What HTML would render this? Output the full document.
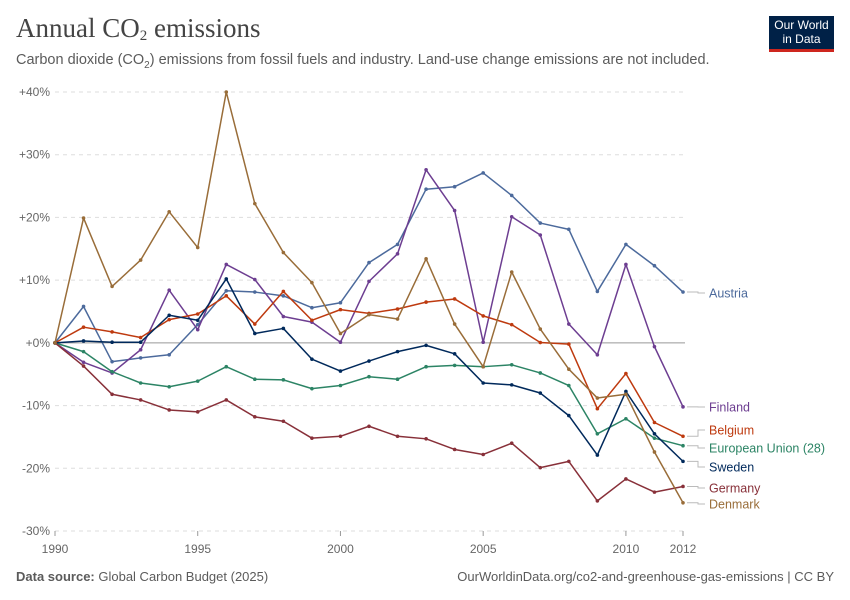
<!DOCTYPE html>
<html><head><meta charset="utf-8"><style>
body{margin:0;background:#fff;}
#wrap{position:relative;width:850px;height:600px;overflow:hidden;font-family:"Liberation Sans",sans-serif;}
.t{position:absolute;white-space:nowrap;}
</style></head><body>
<div id="wrap">
<div class="t" style="left:16px;top:13px;font-family:'Liberation Serif',serif;font-size:27px;color:#444;">Annual CO<sub style="font-size:15px;vertical-align:-3px">2</sub> emissions</div>
<div class="t" style="left:16px;top:52px;font-size:14.5px;color:#5b5b5b;">Carbon dioxide (CO<sub style="font-size:10px">2</sub>) emissions from fossil fuels and industry. Land-use change emissions are not included.</div>
<div style="position:absolute;left:769px;top:16px;width:65px;height:31px;background:#002147;border-bottom:3px solid #ce261e;color:#fff;font-size:12px;line-height:14px;text-align:center;padding-top:2px;">Our World<br>in Data</div>
<svg id="chart" width="850" height="600" style="position:absolute;left:0;top:0"></svg>
<div class="t" style="left:16px;top:569px;font-size:13px;color:#5b5b5b;"><b>Data source:</b> Global Carbon Budget (2025)</div>
<div class="t" style="right:16px;top:569px;font-size:13px;color:#5b5b5b;">OurWorldinData.org/co2-and-greenhouse-gas-emissions | CC BY</div>
</div>
<script>
const years=[1990,1991,1992,1993,1994,1995,1996,1997,1998,1999,2000,2001,2002,2003,2004,2005,2006,2007,2008,2009,2010,2011,2012];
const yTicks=[-30,-20,-10,0,10,20,30,40];
const yTickLabels=["-30%","-20%","-10%","+0%","+10%","+20%","+30%","+40%"];
const xTicks=[1990,1995,2000,2005,2010,2012];
const austria=[0,5.8,-3.0,-2.4,-1.9,2.9,8.3,8.1,7.5,5.6,6.4,12.8,15.7,24.5,24.9,27.1,23.5,19.1,18.1,8.2,15.7,12.3,8.1];
const finland=[0,-3.1,-4.8,-1.1,8.4,2.1,12.5,10.1,4.2,3.3,0.1,9.8,14.2,27.6,21.1,0.1,20.1,17.2,3.0,-1.9,12.5,-0.6,-10.2];
const belgium=[0,2.5,1.75,0.85,3.7,4.6,7.5,3.0,8.2,3.6,5.3,4.7,5.4,6.5,7.0,4.3,2.9,0.05,-0.2,-10.5,-4.9,-12.7,-14.9];
const sweden=[0,0.3,0.1,0.1,4.4,3.6,10.2,1.5,2.3,-2.6,-4.5,-2.9,-1.4,-0.4,-1.75,-6.4,-6.7,-8.0,-11.6,-17.9,-7.75,-14.5,-18.9];
const eu=[0,-1.4,-4.6,-6.4,-7.0,-6.1,-3.8,-5.8,-5.9,-7.3,-6.8,-5.4,-5.8,-3.8,-3.6,-3.8,-3.5,-4.8,-6.8,-14.5,-12.1,-15.2,-16.4];
const germany=[0,-3.7,-8.2,-9.1,-10.7,-11.0,-9.1,-11.8,-12.5,-15.2,-14.9,-13.3,-14.9,-15.3,-17.0,-17.8,-16.0,-19.9,-18.9,-25.2,-21.7,-23.8,-22.9];
const denmark=[0,19.9,9.0,13.2,20.9,15.2,40.0,22.2,14.4,9.6,1.5,4.5,3.8,13.4,3.0,-3.8,11.3,2.2,-4.2,-8.8,-8.2,-17.4,-25.5];
const seriesNames=["Austria","Finland","Belgium","European Union (28)","Sweden","Germany","Denmark"];
const seriesData=[austria,finland,belgium,eu,sweden,germany,denmark];
const colors=["#4c6a9c","#6d3e91","#be3a0f","#2c8465","#00295b","#883039","#996d39"];
const labelY=[293,407,430,448,467,488,504];
const svg=document.getElementById('chart');
const NS='http://www.w3.org/2000/svg';
const x0=55,x1=683,yTop=92,yBot=531;
function xs(yr){return x0+(yr-1990)/(2012-1990)*(x1-x0);}
function ys(v){return yBot-(v+30)/70*(yBot-yTop);}
function mk(tag,attrs){const e=document.createElementNS(NS,tag);for(const k in attrs)e.setAttribute(k,attrs[k]);svg.appendChild(e);return e;}
yTicks.forEach((v,i)=>{
  const g=mk('line',{x1:x0,x2:x1+2,y1:ys(v),y2:ys(v),stroke:v===0?'#999':'#ddd','stroke-dasharray':v===0?'':'4,4','stroke-width':1});
  
  
  const t=mk('text',{x:50,y:ys(v)+4,'text-anchor':'end','font-size':12,fill:'#666','font-family':'Liberation Sans, sans-serif'});
  t.textContent=yTickLabels[i];
  
  
});
xTicks.forEach(yr=>{
  const l=mk('line',{x1:xs(yr),x2:xs(yr),y1:yBot,y2:yBot+5,stroke:'#999'});
  
  
  const t=mk('text',{x:xs(yr),y:553,'text-anchor':'middle','font-size':12,fill:'#666','font-family':'Liberation Sans, sans-serif'});
  t.textContent=yr;
  
  
});
seriesData.forEach((d,si)=>{
  const pts=d.map((v,i)=>xs(years[i])+','+ys(v)).join(' ');
  const p=mk('polyline',{points:pts,fill:'none',stroke:colors[si],'stroke-width':1.5,'stroke-linejoin':'round'});
  
  
  d.forEach((v,i)=>{
    const c=mk('circle',{cx:xs(years[i]),cy:ys(v),r:1.8,fill:colors[si]});
    
    
  });
  const ey=ys(d[d.length-1]),ly=labelY[si];
  const ll=mk('polyline',{points:`${x1+4},${ey} ${x1+15},${ey} ${x1+15},${ly} ${x1+22},${ly}`,fill:'none',stroke:'#bbb','stroke-width':1});
  
  
  const t=mk('text',{x:709,y:ly+4.5,'font-size':12.5,fill:colors[si],'font-family':'Liberation Sans, sans-serif'});
  t.textContent=seriesNames[si];
  
  
});
</script>
</body></html>
